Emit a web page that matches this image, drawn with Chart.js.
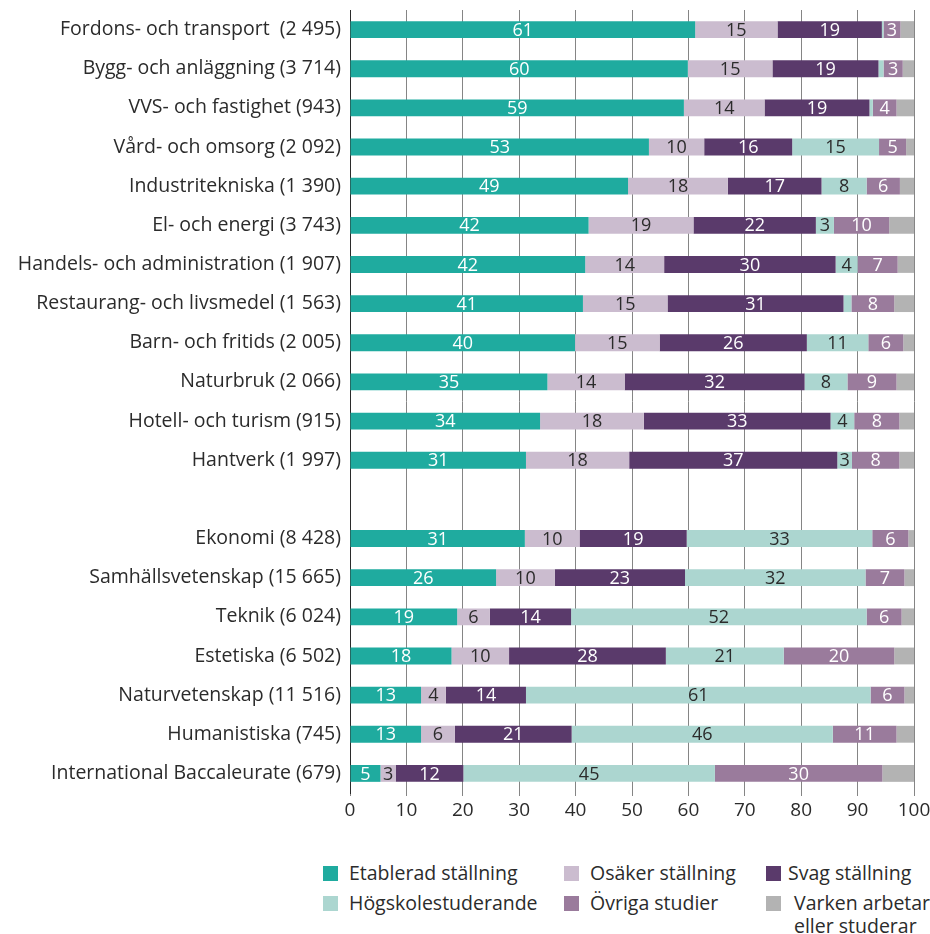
<!DOCTYPE html>
<html>
<head>
<meta charset="utf-8">
<script src="https://cdn.jsdelivr.net/npm/chart.js@4.4.1/dist/chart.umd.min.js"></script>
<style>
  html, body { margin: 0; padding: 0; background: #fff; }
  body { width: 930px; height: 934px; position: relative; overflow: hidden; font-family: "Open Sans", "Liberation Sans", Arial, sans-serif; color: #2b2b2b; }
  #wrap { position: absolute; left: 0; top: 0; width: 930px; height: 834px; }
  .lg { position: absolute; font-size: 19.5px; line-height: 23px; color: #2b2b2b; white-space: nowrap; }
  .lg .box { position: absolute; width: 15px; height: 15px; left: 0; top: 4px; }
  .lg .txt { position: absolute; left: 26px; top: -1px; }
</style>
</head>
<body>
<div id="wrap"><canvas id="c"></canvas></div>
<div id="legend"></div>
<script>
const categories = ["Fordons- och transport  (2 495)", "Bygg- och anläggning (3 714)", "VVS- och fastighet (943)", "Vård- och omsorg (2 092)", "Industritekniska (1 390)", "El- och energi (3 743)", "Handels- och administration (1 907)", "Restaurang- och livsmedel (1 563)", "Barn- och fritids (2 005)", "Naturbruk (2 066)", "Hotell- och turism (915)", "Hantverk (1 997)", "", "Ekonomi (8 428)", "Samhällsvetenskap (15 665)", "Teknik (6 024)", "Estetiska (6 502)", "Naturvetenskap (11 516)", "Humanistiska (745)", "International Baccaleurate (679)"];

const seriesNames = ["Etablerad ställning", "Osäker ställning", "Svag ställning", "Högskolestuderande", "Övriga studier", "Varken arbetar eller studerar"];

const etablerad = [61.2, 59.9, 59.2, 53.0, 49.3, 42.3, 41.7, 41.3, 39.9, 35.0, 33.7, 31.2, null, 31.0, 25.9, 19.0, 18.0, 12.6, 12.6, 5.4];
const osaker    = [14.6, 15.0, 14.3, 9.8, 17.7, 18.6, 14.0, 15.0, 15.0, 13.7, 18.4, 18.3, null, 9.7, 10.4, 5.8, 10.2, 4.4, 6.0, 2.7];
const svag      = [18.5, 18.8, 18.6, 15.6, 16.6, 21.7, 30.4, 31.2, 26.1, 31.9, 33.1, 36.9, null, 19.0, 23.1, 14.4, 27.8, 14.2, 20.7, 12.0];
const hogskole  = [0.3, 0.9, 0.6, 15.4, 8.0, 3.2, 3.9, 1.4, 10.9, 7.6, 4.2, 2.6, null, 32.9, 32.0, 52.4, 20.9, 61.1, 46.3, 44.6];
const ovriga    = [3.0, 3.4, 4.2, 4.8, 5.9, 9.8, 7.1, 7.6, 6.2, 8.7, 8.0, 8.4, null, 6.4, 6.9, 6.2, 19.6, 6.0, 11.3, 29.7];
const varken    = [2.4, 2.0, 3.1, 1.4, 2.5, 4.4, 2.9, 3.5, 1.9, 3.1, 2.6, 2.6, null, 1.0, 1.7, 2.2, 3.5, 1.7, 3.1, 5.6];

const xTicks = [0, 10, 20, 30, 40, 50, 60, 70, 80, 90, 100];

const colors = ["#1fab9f", "#cbbccf", "#5a3a6b", "#acd6d0", "#9a7b9c", "#b3b3b3"];
const labelColors = ["#ffffff", "#2b2b2b", "#ffffff", "#2b2b2b", "#ffffff", null];
const allSeries = [etablerad, osaker, svag, hogskole, ovriga, varken];

const FONT = '"Open Sans", "Liberation Sans", Arial, sans-serif';

const segLabels = {
  id: 'segLabels',
  afterDatasetsDraw(chart) {
    const ctx = chart.ctx;
    ctx.save();
    ctx.font = '18px ' + FONT;
    ctx.textAlign = 'center';
    ctx.textBaseline = 'middle';
    chart.data.datasets.forEach((ds, di) => {
      const col = labelColors[di];
      if (!col) return;
      const meta = chart.getDatasetMeta(di);
      meta.data.forEach((bar, i) => {
        const v = ds.data[i];
        if (v == null) return;
        const r = Math.round(v);
        if (r < 3) return;
        const cx = (bar.x + bar.base) / 2;
        ctx.fillStyle = col;
        ctx.fillText(String(r), cx, bar.y + 1);
      });
    });
    ctx.restore();
  }
};

const datasets = allSeries.map((arr, i) => ({
  label: seriesNames[i],
  data: arr,
  backgroundColor: colors[i],
  borderWidth: 0,
  categoryPercentage: 1.0,
  barPercentage: 0.43
}));

new Chart(document.getElementById('c'), {
  type: 'bar',
  data: { labels: categories, datasets },
  plugins: [segLabels],
  options: {
    indexAxis: 'y',
    responsive: true,
    maintainAspectRatio: false,
    animation: false,
    layout: { padding: { top: 10, right: 16, bottom: 0, left: 0 } },
    plugins: { legend: { display: false }, tooltip: { enabled: false } },
    scales: {
      x: {
        stacked: true,
        min: 0, max: 100,
        afterBuildTicks(scale) { scale.ticks = xTicks.map(v => ({ value: v })); },
        afterFit(scale) { scale.height = 41; scale.paddingLeft = 0; scale.paddingRight = 0; },
        grid: { color: '#858585', lineWidth: 1, drawTicks: true, tickLength: 3 },
        border: { display: false },
        ticks: { font: { family: FONT, size: 19 }, color: '#2b2b2b', padding: 3, maxRotation: 0, autoSkip: false }
      },
      y: {
        stacked: true,
        afterFit(scale) { scale.width = 350; scale.paddingTop = 0; scale.paddingBottom = 0; },
        grid: { display: false, drawTicks: false },
        border: { display: true, color: '#2b2b2b', width: 1 },
        ticks: { font: { family: FONT, size: 19.5 }, color: '#2b2b2b', padding: 9, autoSkip: false }
      }
    }
  }
});

// HTML legend
const legendPos = [
  [323, 862, 0], [564, 862, 1], [766, 862, 2],
  [323, 892, 3], [564, 892, 4], [766, 892, 5]
];
const lg = document.getElementById('legend');
legendPos.forEach(([x, y, i]) => {
  const d = document.createElement('div');
  d.className = 'lg';
  d.style.left = x + 'px';
  d.style.top = y + 'px';
  const b = document.createElement('span');
  b.className = 'box';
  b.style.background = colors[i];
  const t = document.createElement('span');
  t.className = 'txt';
  if (i === 2) t.style.left = '22px';
  if (i === 5) { t.style.left = '28px'; t.innerHTML = 'Varken arbetar<br>eller studerar'; }
  else t.textContent = seriesNames[i];
  d.appendChild(b); d.appendChild(t);
  lg.appendChild(d);
});
</script>
</body>
</html>
